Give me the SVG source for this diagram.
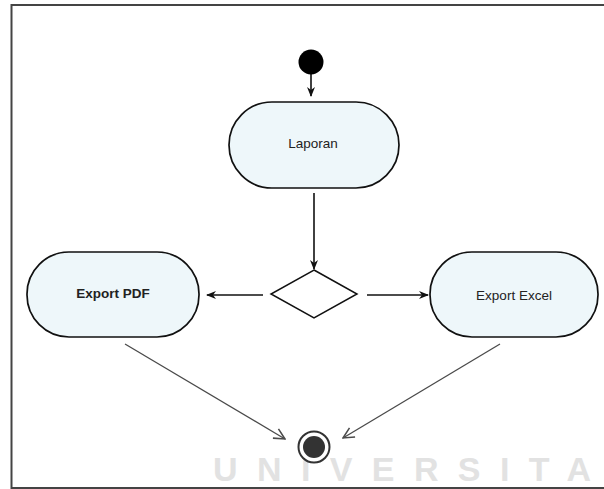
<svg xmlns="http://www.w3.org/2000/svg" width="604" height="489" viewBox="0 0 604 489">
<defs>
<style>
.node{fill:#eef7fa;stroke:#111;stroke-width:1.7}
.lbl{font-family:"Liberation Sans",Arial,sans-serif;font-size:13.5px;fill:#222;text-anchor:middle}
.flow{stroke:#111;stroke-width:1.6;fill:none}
.thin{stroke:#4a4a4a;stroke-width:1.3;fill:none}
</style>
<marker id="ah" viewBox="0 0 10 10" refX="9" refY="5" markerWidth="10" markerHeight="10" markerUnits="userSpaceOnUse" orient="auto">
<path d="M0,1 L10,5 L0,9 L3,5 Z" fill="#111"/>
</marker>
<marker id="oh" viewBox="0 0 12 12" refX="11" refY="6" markerWidth="13" markerHeight="13" markerUnits="userSpaceOnUse" orient="auto">
<path d="M1,1 L11,6 L1,11" fill="none" stroke="#4a4a4a" stroke-width="1.4"/>
</marker>
</defs>
<rect width="604" height="489" fill="#fff"/>
<text x="213" y="481" font-family="Liberation Sans,Arial,sans-serif" font-weight="bold" font-size="34" fill="#e2e2e2" textLength="378" lengthAdjust="spacing">UNIVERSITA</text>
<path d="M604,5 H11.5 V488 H604" fill="none" stroke="#444" stroke-width="2"/>
<g id="connectors">
<line class="flow" x1="311" y1="74" x2="311" y2="96" marker-end="url(#ah)"/>
<line class="flow" x1="314" y1="193" x2="314" y2="269" marker-end="url(#ah)"/>
<line class="flow" x1="263" y1="295" x2="207" y2="295" marker-end="url(#ah)"/>
<line class="flow" x1="367" y1="295" x2="428" y2="295" marker-end="url(#ah)"/>
<line class="thin" x1="125" y1="344" x2="285" y2="439" marker-end="url(#oh)"/>
<line class="thin" x1="500" y1="344" x2="343" y2="438" marker-end="url(#oh)"/>
</g>
<g id="start"><circle cx="311" cy="62" r="12.5" fill="#000"/></g>
<g id="laporan"><rect class="node" x="229" y="102" width="170" height="86" rx="43"/><text class="lbl" x="313" y="148">Laporan</text></g>
<g id="decision"><polygon points="314,270 357,294 314,318 271,294" fill="#fff" stroke="#111" stroke-width="1.5"/></g>
<g id="exportpdf"><rect class="node" x="27" y="252" width="172" height="85" rx="42"/><text class="lbl" x="113" y="298" font-weight="bold">Export PDF</text></g>
<g id="exportexcel"><rect class="node" x="430" y="252" width="168" height="85" rx="42"/><text class="lbl" x="514" y="300">Export Excel</text></g>
<g id="end"><circle cx="314" cy="447" r="15.5" fill="#fff" stroke="#333" stroke-width="2"/><circle cx="314" cy="447" r="11" fill="#333"/></g>
</svg>
